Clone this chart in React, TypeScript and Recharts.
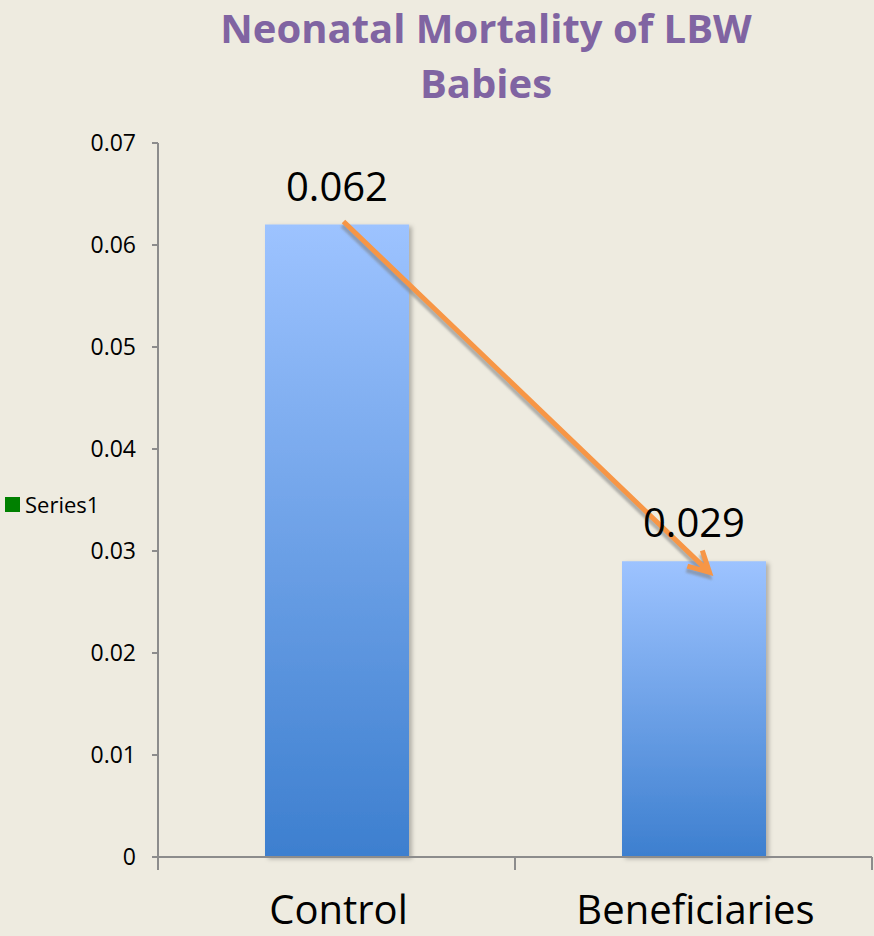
import { BarChart, Bar, XAxis, YAxis, LabelList, ReferenceLine, Legend } from 'recharts'

const categories = ['Control', 'Beneficiaries']
const mortality = [0.062, 0.029]
const yTicks = [0, 0.01, 0.02, 0.03, 0.04, 0.05, 0.06, 0.07]
// arrow drawn on the slide from the top of one bar to the other
const arrowStart = { category: 'Control', value: 0.0623 }
const arrowEnd = { category: 'Beneficiaries', value: 0.0279 }

const data = categories.map((name, i) => ({ name, value: mortality[i] }))

const FONT = "'Open Sans', sans-serif"
const AXIS = '#8c8c8c'
const BG = '#eeebe0'

function CategoryTick(props: any) {
  const { x, y, payload } = props
  const idx = payload?.index ?? props.index ?? 0
  const half = payload?.offset ?? 178.5
  return (
    <g>
      <line x1={x - half} x2={x - half} y1={y} y2={y + 13} stroke={AXIS} strokeWidth={2} />
      {idx === categories.length - 1 && (
        <line x1={x + half} x2={x + half} y1={y} y2={y + 13} stroke={AXIS} strokeWidth={2} />
      )}
      <text x={x + 2} y={y + 67} textAnchor="middle" fontSize={40} fontFamily={FONT} fill="#000">
        {payload.value}
      </text>
    </g>
  )
}

function ArrowShape(props: any) {
  // the hand-drawn arrow sits a little right of the bar centres
  const x1 = props.x1 + 7
  const y1 = props.y1
  const x2 = props.x2 + 16
  const y2 = props.y2
  const ang = Math.atan2(y2 - y1, x2 - x1)
  const len = 23
  const spread = (28 * Math.PI) / 180
  const a1 = { x: x2 - len * Math.cos(ang - spread), y: y2 - len * Math.sin(ang - spread) }
  const a2 = { x: x2 - len * Math.cos(ang + spread), y: y2 - len * Math.sin(ang + spread) }
  const path = `M${x1},${y1} L${x2},${y2} M${a1.x},${a1.y} L${x2},${y2} L${a2.x},${a2.y}`
  return (
    <g>
      <path d={path} transform="translate(-1,4)" stroke="#7d7d7d" strokeOpacity={0.55} strokeWidth={5} fill="none" filter="url(#soft)" />
      <path d={path} stroke="#f79646" strokeWidth={5} fill="none" strokeLinejoin="miter" />
    </g>
  )
}

function LegendContent() {
  return (
    <div style={{ display: 'flex', alignItems: 'center', fontFamily: FONT, fontSize: 22, color: '#000' }}>
      <span style={{ display: 'inline-block', width: 15, height: 15, background: '#008000', marginRight: 5 }} />
      Series1
    </div>
  )
}

export default function App() {
  return (
    <div style={{ position: 'absolute', left: 0, top: 0, width: 874, height: 936, background: BG, overflow: 'hidden' }}>
      <div
        style={{
          position: 'absolute',
          left: 100,
          top: 0,
          width: 772,
          textAlign: 'center',
          fontFamily: FONT,
          fontWeight: 700,
          fontSize: 40,
          lineHeight: '55px',
          color: '#8064a2',
        }}
      >
        Neonatal Mortality of LBW
        <br />
        Babies
      </div>
      <BarChart
        width={874}
        height={936}
        data={data}
        margin={{ top: 143, right: 2, left: 0, bottom: 0 }}
        style={{ position: 'absolute', left: 0, top: 0 }}
      >
        <defs>
          <linearGradient id="barGrad" x1="0" y1="0" x2="0" y2="1">
            <stop offset="0%" stopColor="#9dc3ff" />
            <stop offset="100%" stopColor="#3d7fcf" />
          </linearGradient>
          <filter id="barShadow" x="-10%" y="-10%" width="130%" height="120%">
            <feDropShadow dx={3} dy={2} stdDeviation={2} floodColor="#000" floodOpacity={0.25} />
          </filter>
          <filter id="soft" x="-10%" y="-10%" width="120%" height="120%">
            <feGaussianBlur stdDeviation={1} />
          </filter>
        </defs>
        <XAxis
          dataKey="name"
          axisLine={{ stroke: AXIS, strokeWidth: 2 }}
          tickLine={false}
          tickSize={0}
          tickMargin={0}
          interval={0}
          height={79}
          tick={<CategoryTick />}
        />
        <YAxis
          domain={[0, 0.07]}
          ticks={yTicks}
          width={158}
          axisLine={{ stroke: AXIS, strokeWidth: 2 }}
          tickLine={{ stroke: AXIS, strokeWidth: 2 }}
          tickSize={6}
          tickMargin={16}
          tick={{ fill: '#000', fontSize: 23, fontFamily: FONT }}
        />
        <Legend
          layout="vertical"
          align="center"
          verticalAlign="middle"
          wrapperStyle={{ left: 5, top: 489, width: 120 }}
          content={<LegendContent />}
        />
        <Bar dataKey="value" barSize={144} fill="url(#barGrad)" filter="url(#barShadow)" isAnimationActive={false}>
          <LabelList dataKey="value" position="top" offset={24} fontSize={40} fontFamily={FONT} fill="#000" />
        </Bar>
        <ReferenceLine
          segment={[
            { x: arrowStart.category, y: arrowStart.value },
            { x: arrowEnd.category, y: arrowEnd.value },
          ]}
          shape={<ArrowShape />}
        />
      </BarChart>
    </div>
  )
}
